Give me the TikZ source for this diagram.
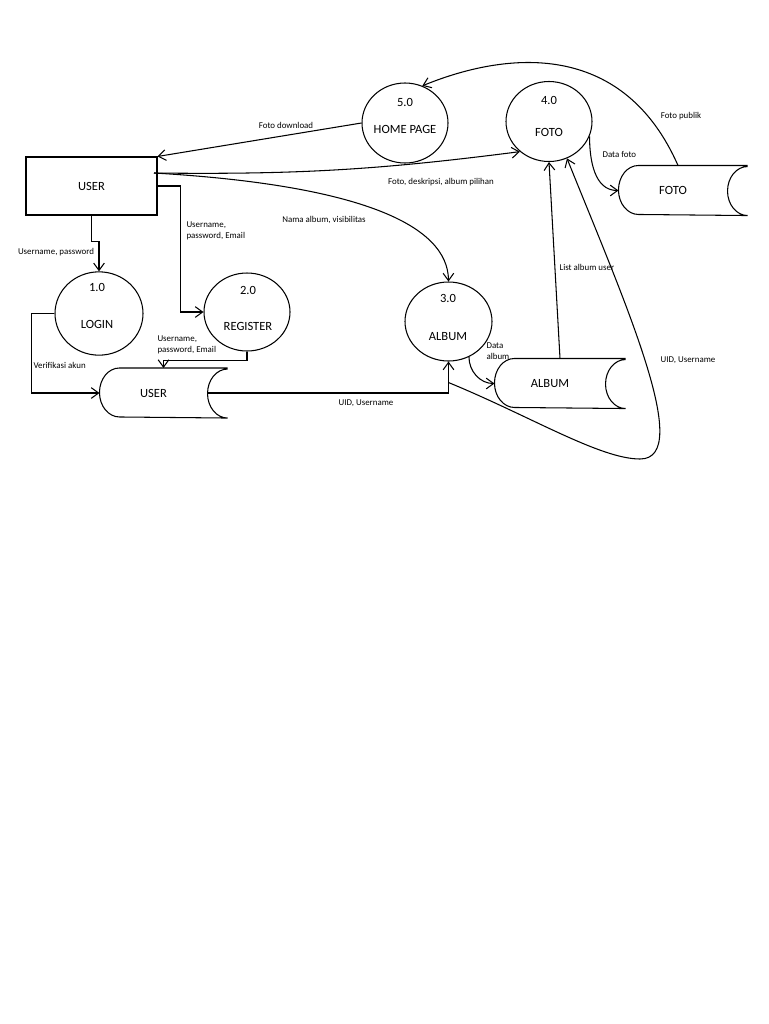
\documentclass[tikz,border=0pt]{standalone}
\usepackage{fontspec}
\setmainfont{Carlito}
\usetikzlibrary{shapes.geometric, arrows.meta, calc}

\newcommand{\procfont}{\fontsize{10.7}{13}\selectfont}
\newcommand{\lblfont}{\fontsize{7.6}{9}\selectfont}
% garis data store: tutup kiri bulat, sisi kanan terbuka
\newcommand{\drawstore}[1]{%
  \draw ([xshift=6mm]#1.north east) -- ([xshift=6mm]#1.north west)
    arc[start angle=90, end angle=270, x radius=6mm, y radius=7.35mm]
    -- ([xshift=6mm]#1.south east)
    arc[start angle=270, end angle=90, x radius=6mm, y radius=7.35mm];}

\begin{document}
\begin{tikzpicture}[
    x=0.3mm, y=-0.3mm,
    line width=0.9pt,
    ent/.style={draw, rectangle, minimum width=39.3mm, minimum height=17.4mm, font=\procfont},
    proc/.style={draw, ellipse, inner sep=0pt, minimum width=25.8mm, minimum height=24mm},
    ptext/.style={inner sep=0pt, font=\procfont},
    store/.style={rectangle, inner sep=0pt, minimum height=14.7mm, font=\procfont},
    lbl/.style={inner sep=0pt, font=\lblfont, align=left},
    flow/.style={-{Straight Barb[length=2.2mm, width=3.2mm]}}
]
\useasboundingbox (0,0) rectangle (768,1024);

% ====================
% Entitas dan Proses
% ====================
\node[ent] (user) at (91.5,186) {USER};

\node[proc] (p5) at (405,123) {};
\node[ptext] (p5num) at (405,102) {5.0};
\node[ptext] (p5name) at (405,129) {HOME PAGE};

\node[proc] (p4) at (549,121.5) {};
\node[ptext] (p4num) at (549,100) {4.0};
\node[ptext] (p4name) at (549,132) {FOTO};

\node[proc, minimum width=26.4mm, minimum height=25mm] (p1) at (99,313.5) {};
\node[ptext] (p1num) at (97,287) {1.0};
\node[ptext] (p1name) at (97,324) {LOGIN};

\node[proc, minimum height=23.4mm] (p2) at (247,312) {};
\node[ptext] (p2num) at (248,290) {2.0};
\node[ptext] (p2name) at (248,326) {REGISTER};

\node[proc, minimum width=26.1mm, minimum height=23.7mm] (p3) at (448.5,321.5) {};
\node[ptext] (p3num) at (448,298) {3.0};
\node[ptext] (p3name) at (448,337) {ALBUM};

% Data store
\node[store, minimum width=32.1mm] (ustore) at (153.5,393) {USER};
\node[store, minimum width=33mm] (astore) at (550,383.5) {ALBUM};
\node[store, minimum width=32.4mm] (fstore) at (673,190.5) {FOTO};
\drawstore{ustore}
\drawstore{astore}
\drawstore{fstore}

% ====================
% Aliran Data
% ====================
\coordinate (uout) at (154,173);
\coordinate (uidfork) at ([yshift=-6.3mm]p3.south);

% USER <-> 5.0 / 4.0 / 3.0
\draw[flow] (p5.west) -- (user.north east);
\draw[flow] (uout) to[bend right=4] (p4.226);
\draw[flow] (uout) .. controls (360,185) and (448,225) .. (p3.north);

% USER -> 1.0, 2.0
\draw[flow] (user.south) -- ++(0,26) -| (p1.north);
\draw[flow] (user.east) -- ++(23,0) |- (p2.west);

% 1.0, 2.0 -> store USER
\draw[flow] (p1.west) -- ++(-23,0) |- (ustore.west);
\draw[flow] (p2.south) -- ++(0,9) -| ([xshift=3mm]ustore.north);

% store USER -> 3.0, 4.0
\draw[flow] (ustore.east) -| (p3.south);
\draw[flow] (uidfork) .. controls (530,416) and (600,459) .. (640,459)
      .. controls (695,459) and (624,300) .. (p4.-64);

% 3.0 -> store ALBUM -> 4.0
\draw[flow] (p3.-60) to[out=-90, in=180] (astore.west);
\draw[flow] ([xshift=3mm]astore.north) -- (p4.south);

% 4.0 -> store FOTO -> 5.0
\draw[flow] (p4.-20) to[out=-90, in=180] (fstore.west);
\draw[flow] ([xshift=1.5mm]fstore.north) .. controls (625,45) and (515,48) .. (p5.65);

% ====================
% Label
% ====================
\node[lbl] (lfdown) at (286,125) {Foto download};
\node[lbl] (lfdesk) at (441,182) {Foto, deskripsi, album pilihan};
\node[lbl] (lnama) at (324,220) {Nama album, visibilitas};
\node[lbl] (lup) at (56,252) {Username, password};
\node[lbl, anchor=west] (lupe1) at (186,231) {Username,\\password, Email};
\node[lbl, anchor=west] (lverif) at (33,365) {Verifikasi akun};
\node[lbl, anchor=west] (lupe2) at (157,345) {Username,\\password, Email};
\node[lbl] (luid1) at (366,403) {UID, Username};
\node[lbl, anchor=west] (ldalb) at (486,351) {Data\\album};
\node[lbl, anchor=west] (llist) at (559,267) {List album user};
\node[lbl] (luid2) at (688,360) {UID, Username};
\node[lbl] (lpub) at (681,116) {Foto publik};
\node[lbl, anchor=west] (ldfoto) at (602,154) {Data foto};

\end{tikzpicture}
\end{document}
